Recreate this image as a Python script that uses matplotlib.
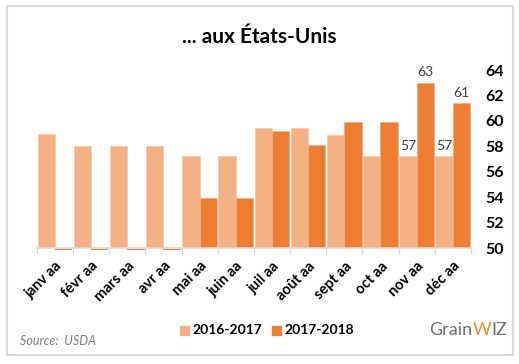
import numpy as np
import matplotlib
matplotlib.use("Agg")
import matplotlib.pyplot as plt
from matplotlib.patches import Rectangle

plt.rcParams['font.family'] = ['Lato', 'DejaVu Sans']

mois = ["janv aa", "févr aa", "mars aa", "avr aa", "mai aa", "juin aa",
        "juil aa", "août aa", "sept aa", "oct aa", "nov aa", "déc aa"]
v_2016_2017 = [59.0, 58.0, 58.0, 58.0, 57.2, 57.2, 59.4, 59.4, 58.9, 57.2, 57.2, 57.2]
v_2017_2018 = [0, 0, 0, 0, 53.9, 53.9, 59.2, 58.1, 59.9, 59.9, 63.0, 61.4]
series_names = ["2016-2017", "2017-2018"]
label_idx = [10, 11]   # mois avec étiquettes

light = "#F4B183"
dark = "#ED7D31"
base = 50

fig = plt.figure(figsize=(5.19, 3.64), dpi=100)
fig.patch.set_facecolor("white")
fig.patches.append(Rectangle((7/519, 1-355/364), 506/519, 349/364, transform=fig.transFigure,
                             fill=False, edgecolor="#D9D9D9", linewidth=1.5))

ax = fig.add_axes([37/519, 1-248/364, 434/519, 178/364])
x = np.arange(len(mois))
a = np.array(v_2016_2017)
b = np.array(v_2017_2018)

ax.bar(x - 0.245, a - base, bottom=base, width=0.48, color=light, edgecolor="#F8CBAD", linewidth=0.6)
pos = b > base
ax.bar(x[pos] + 0.235, b[pos] - base, bottom=base, width=0.48, color=dark,
       edgecolor="#F4B183", linewidth=0.6)
# valeurs nulles : petit trait sous l'axe
ax.bar(x[~pos] + 0.235, 0.1, bottom=base - 0.16, width=0.48, color=dark, linewidth=0, clip_on=False)

for i in label_idx:
    ax.text(x[i] - 0.245, a[i] + 0.35, "%.0f" % int(a[i]), ha="center", va="bottom", fontsize=10, color="#404040")
    ax.text(x[i] + 0.235, b[i] + 0.35, "%.0f" % int(b[i]), ha="center", va="bottom", fontsize=10, color="#404040",
            clip_on=False)

ax.set_xlim(-0.5, 11.5)
ax.set_ylim(50, 64)
ax.set_yticks(np.arange(50, 65, 2))
ax.yaxis.tick_right()
ax.tick_params(axis="y", length=0, labelsize=11.5, pad=10)
for t in ax.get_yticklabels():
    t.set_fontweight("bold")

ax.set_xticks(x)
ax.set_xticklabels(mois, rotation=45, ha="right", rotation_mode="anchor", fontsize=10.5, fontweight="bold")
ax.set_xticks(np.arange(-0.5, 12, 1), minor=True)
ax.tick_params(axis="x", which="major", length=0, pad=8)
ax.tick_params(axis="x", which="minor", length=4, color="#D9D9D9", width=1)

for s in ["top", "left", "right"]:
    ax.spines[s].set_visible(False)
ax.spines["bottom"].set_color("#D9D9D9")
ax.spines["bottom"].set_linewidth(1.2)

fig.text(0.5, 1-37/364, "... aux États-Unis", ha="center", va="center", fontsize=15, fontweight="bold")

# légende
fig.patches.append(Rectangle((180/519, 1-335/364), 9/519, 9/364, transform=fig.transFigure, color=light))
fig.text(192/519, 1-330/364, series_names[0], va="center", fontsize=10, fontweight="bold")
fig.patches.append(Rectangle((272/519, 1-335/364), 9/519, 9/364, transform=fig.transFigure, color=dark))
fig.text(284/519, 1-330/364, series_names[1], va="center", fontsize=10, fontweight="bold")

fig.text(20/519, 1-341/364, "Source:  USDA", va="center", fontsize=9, style="italic", color="#7F7F7F")

# logo
fig.text(429/519, 1-330/364, "Grain", va="center", fontsize=13, color="#6E6E6E")
fig.text(473/519, 1-330/364, "W", va="center", fontsize=13, color="#E8902E")
fig.text(491/519, 1-330/364, "IZ", va="center", fontsize=13, color="#6E6E6E")

fig.savefig("out.png", dpi=100)
